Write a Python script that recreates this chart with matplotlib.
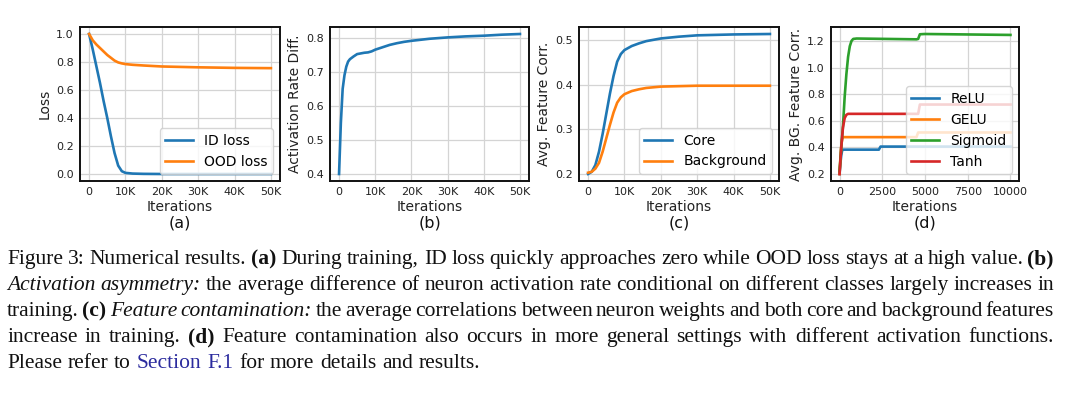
import matplotlib
matplotlib.use('Agg')
import matplotlib.pyplot as plt
from matplotlib.ticker import FuncFormatter

# ---------------- data ----------------
# (a) loss curves
a_iters = [0, 1000, 2000, 3000, 4000, 5000, 6000, 7000, 8000, 9000, 10000, 12000,
           15000, 20000, 30000, 40000, 50000]
a_id_loss = [1.0, 0.89, 0.77, 0.65, 0.52, 0.40, 0.27, 0.15, 0.06, 0.02, 0.008, 0.003,
             0.001, 0.0, 0.0, 0.0, 0.0]
a_ood_loss = [1.0, 0.955, 0.925, 0.90, 0.875, 0.85, 0.83, 0.81, 0.797, 0.79, 0.785, 0.78,
              0.775, 0.768, 0.762, 0.758, 0.756]

# (b) activation rate difference
b_iters = [0, 500, 1000, 1500, 2000, 2500, 3000, 4000, 5000, 6000, 7000, 8000, 9000,
           10000, 12000, 14000, 16000, 18000, 20000, 25000, 30000, 35000, 40000, 45000, 50000]
b_act_diff = [0.40, 0.55, 0.65, 0.69, 0.715, 0.73, 0.737, 0.745, 0.752, 0.754, 0.756,
              0.757, 0.760, 0.765, 0.772, 0.779, 0.784, 0.788, 0.791, 0.797, 0.801,
              0.804, 0.806, 0.809, 0.811]

# (c) feature correlations
c_iters = [0, 1000, 2000, 3000, 4000, 5000, 6000, 7000, 8000, 9000, 10000, 12000,
           14000, 16000, 20000, 25000, 30000, 40000, 50000]
c_core = [0.20, 0.205, 0.22, 0.25, 0.29, 0.335, 0.38, 0.42, 0.452, 0.469, 0.478, 0.487,
          0.493, 0.498, 0.504, 0.508, 0.511, 0.513, 0.514]
c_background = [0.203, 0.205, 0.212, 0.225, 0.25, 0.28, 0.31, 0.338, 0.36, 0.372, 0.379,
                0.386, 0.390, 0.393, 0.396, 0.397, 0.398, 0.398, 0.398]

# (d) BG feature correlation per activation
d_relu_iters = [0, 50, 100, 150, 200, 2300, 2400, 10000]
d_relu = [0.20, 0.28, 0.34, 0.375, 0.383, 0.383, 0.406, 0.406]
d_gelu_iters = [0, 50, 100, 150, 200, 4500, 4600, 10000]
d_gelu = [0.20, 0.32, 0.41, 0.46, 0.477, 0.477, 0.512, 0.512]
d_sigmoid_iters = [0, 100, 200, 300, 400, 500, 600, 700, 800, 1000, 4500, 4600, 4700,
                   5000, 10000]
d_sigmoid = [0.22, 0.40, 0.56, 0.78, 0.95, 1.08, 1.16, 1.20, 1.215, 1.218, 1.212, 1.215,
             1.25, 1.252, 1.245]
d_tanh_iters = [0, 100, 200, 300, 400, 500, 4600, 4700, 10000]
d_tanh = [0.20, 0.40, 0.55, 0.62, 0.645, 0.652, 0.652, 0.722, 0.722]

abc_xticks = [0, 10000, 20000, 30000, 40000, 50000]
d_xticks = [0, 2500, 5000, 7500, 10000]
a_yticks = [0.0, 0.2, 0.4, 0.6, 0.8, 1.0]
b_yticks = [0.4, 0.5, 0.6, 0.7, 0.8]
c_yticks = [0.2, 0.3, 0.4, 0.5]
d_yticks = [0.2, 0.4, 0.6, 0.8, 1.0, 1.2]

panel_labels = ['(a)', '(b)', '(c)', '(d)']
ylabels = ['Loss', 'Activation Rate Diff.', 'Avg. Feature Corr.', 'Avg. BG. Feature Corr.']

caption_lines = [
    [("Figure 3: Numerical results.", 'n'), ("(a)", 'b'),
     ("During training, ID loss quickly approaches zero while OOD loss stays at a high value.", 'n'),
     ("(b)", 'b')],
    [("Activation asymmetry:", 'i'),
     ("the average difference of neuron activation rate conditional on different classes largely increases in", 'n')],
    [("training.", 'n'), ("(c)", 'b'), ("Feature contamination:", 'i'),
     ("the average correlations between neuron weights and both core and background features", 'n')],
    [("increase in training.", 'n'), ("(d)", 'b'),
     ("Feature contamination also occurs in more general settings with different activation functions.", 'n')],
    [("Please refer to", 'n'), ("Section F.1", 'l'), ("for more details and results.", 'n')],
]

# ---------------- figure ----------------
W, H = 1080, 397
fig = plt.figure(figsize=(W / 100, H / 100), dpi=100)
plt.rcParams['font.family'] = ['DejaVu Sans']

BLUE, ORANGE, GREEN, RED = '#1f77b4', '#ff7f0e', '#2ca02c', '#d62728'


def ax_at(l, r, t, b):
    return fig.add_axes([l / W, 1 - b / H, (r - l) / W, (b - t) / H])


def k_fmt(v, pos):
    return '0' if v == 0 else f'{int(v / 1000)}K'


def style(ax, xticks, yticks, ylabel, kfmt=True):
    ax.set_xticks(xticks)
    ax.set_yticks(yticks)
    if kfmt:
        ax.xaxis.set_major_formatter(FuncFormatter(k_fmt))
    ax.yaxis.set_major_formatter(FuncFormatter(lambda v, p: f'{v:.1f}'))
    ax.grid(True, color='#d4d4d4', linewidth=0.9)
    ax.set_axisbelow(True)
    ax.tick_params(length=0, pad=4.5, labelsize=8, colors='#222222')
    for s in ax.spines.values():
        s.set_linewidth(1.4)
        s.set_color('#111111')
    ax.set_xlabel('Iterations', fontsize=10, labelpad=2, color='#222222')
    ax.set_ylabel(ylabel, fontsize=10, labelpad=3, color='#222222')


LW = 1.9
leg_kw = dict(loc='lower right', fontsize=10, framealpha=0.8, edgecolor='#cccccc')

# (a)
ax1 = ax_at(80, 280, 27, 181)
ax1.plot(a_iters, a_id_loss, color=BLUE, lw=LW, label='ID loss')
ax1.plot(a_iters, a_ood_loss, color=ORANGE, lw=LW, label='OOD loss')
style(ax1, abc_xticks, a_yticks, ylabels[0])
ax1.legend(**leg_kw)

# (b)
ax2 = ax_at(330, 529, 27, 181)
ax2.plot(b_iters, b_act_diff, color=BLUE, lw=LW)
style(ax2, abc_xticks, b_yticks, ylabels[1])

# (c)
ax3 = ax_at(579, 779, 27, 181)
ax3.plot(c_iters, c_core, color=BLUE, lw=LW, label='Core')
ax3.plot(c_iters, c_background, color=ORANGE, lw=LW, label='Background')
style(ax3, abc_xticks, c_yticks, ylabels[2])
ax3.legend(**leg_kw)

# (d)
ax4 = ax_at(831, 1019, 27, 181)
ax4.plot(d_relu_iters, d_relu, color=BLUE, lw=LW, label='ReLU')
ax4.plot(d_gelu_iters, d_gelu, color=ORANGE, lw=LW, label='GELU')
ax4.plot(d_sigmoid_iters, d_sigmoid, color=GREEN, lw=LW, label='Sigmoid')
ax4.plot(d_tanh_iters, d_tanh, color=RED, lw=LW, label='Tanh')
style(ax4, d_xticks, d_yticks, ylabels[3], kfmt=False)
ax4.xaxis.set_major_formatter(FuncFormatter(lambda v, p: f'{int(v)}'))
ax4.legend(**leg_kw)

for ax, lab in zip([ax1, ax2, ax3, ax4], panel_labels):
    pos = ax.get_position()
    fig.text((pos.x0 + pos.x1) / 2, 1 - 223 / H, lab, ha='center', va='center',
             fontsize=11.5, color='#111111')

# ---------------- caption (justified) ----------------
renderer = fig.canvas.get_renderer()
SERIF = 'Liberation Serif'
styles = {'n': dict(color='#111111'),
          'b': dict(weight='bold', color='#111111'),
          'i': dict(style='italic', color='#111111'),
          'l': dict(color='#2b2b9e')}


def measure(s, size, st):
    t = fig.text(0, 0, s, fontsize=size, family=SERIF, **styles[st])
    w = t.get_window_extent(renderer).width
    t.remove()
    return w


def words_of(line):
    out = []
    for seg, st in line:
        for w in seg.split(' '):
            if w:
                out.append((w, st))
    return out


base = 12.0
last = words_of(caption_lines[-1])
sp = measure('a a', base, 'n') - measure('aa', base, 'n')
nat = sum(measure(w, base, st) for w, st in last) + sp * (len(last) - 1)
fs = base * 468.0 / nat
sp = sp * fs / base

LEFT, RIGHT = 7.0, 1054.0
baselines = [264, 290, 316, 342, 368]
for i, line in enumerate(caption_lines):
    ws = words_of(line)
    widths = [measure(w, fs, st) for w, st in ws]
    if i < len(caption_lines) - 1:
        gap = (RIGHT - LEFT - sum(widths)) / (len(ws) - 1)
    else:
        gap = sp * 1.08
    x = LEFT
    for (w, st), wd in zip(ws, widths):
        fig.text(x / W, 1 - baselines[i] / H, w, fontsize=fs, family=SERIF,
                 ha='left', va='baseline', **styles[st])
        x += wd + gap

fig.savefig('out.png', dpi=100)
